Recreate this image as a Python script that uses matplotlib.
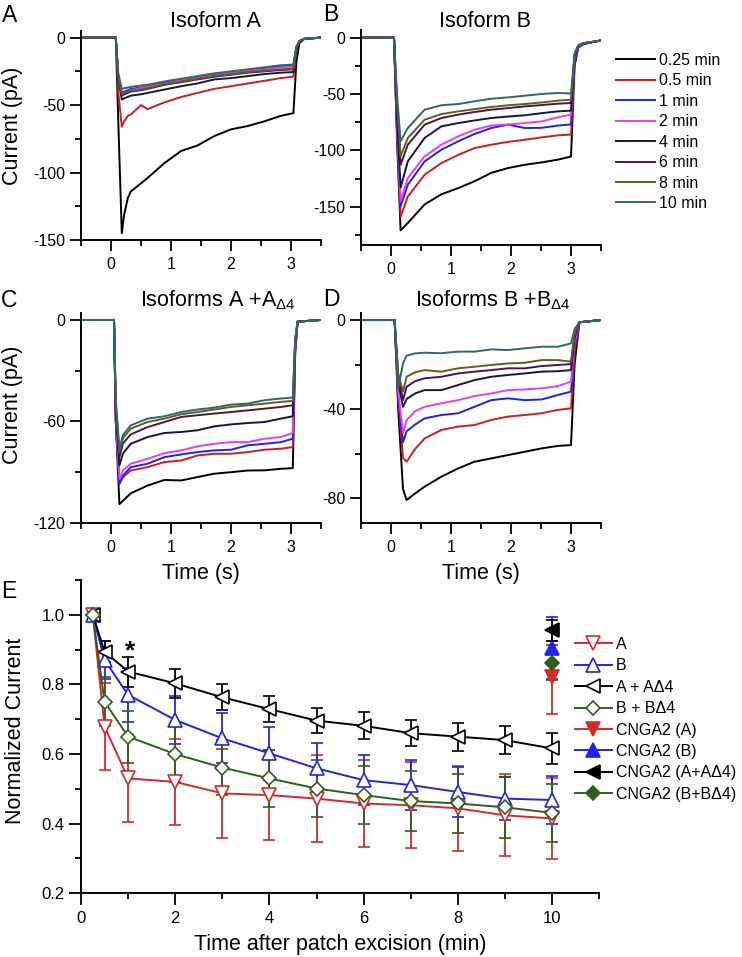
import matplotlib

matplotlib.use("Agg")
import matplotlib.pyplot as plt
from matplotlib.ticker import MultipleLocator, FormatStrFormatter

plt.rcParams["font.family"] = ["Liberation Sans", "DejaVu Sans"]
plt.rcParams["mathtext.fontset"] = "custom"
plt.rcParams["mathtext.rm"] = "Liberation Sans"
plt.rcParams["axes.unicode_minus"] = False

# ---------------------------------------------------------------------------
# Current traces (pA), one list per excision time.
# ---------------------------------------------------------------------------
TRACE_LABELS = ["0.25 min", "0.5 min", "1 min", "2 min", "4 min", "6 min", "8 min", "10 min"]
TRACE_COLORS = ["#000000", "#d01c1c", "#1f1fff", "#e83ee8", "#141452", "#4a1450", "#5f5f1a", "#306868"]

TIME_A = [-0.5, 0.08, 0.12, 0.18, 0.22, 0.28, 0.33, 0.5, 0.61, 0.89, 1.17, 1.44, 1.72,
          2.0, 2.28, 2.56, 2.83, 3.04, 3.09, 3.14, 3.22, 3.5]
TRACES_A = [
    [0, 0, -60, -145, -131, -119, -114, -108, -104, -93, -84, -80, -73, -68, -65.5, -62, -58, -56, -18, -4, -1, 0],
    [0, 0, -40, -66, -62, -58, -57, -50, -53, -48, -44, -41, -38, -36, -34, -32, -30, -29, -9, -3, -1, 0],
    [0, 0, -28, -41, -40, -39, -38, -37, -36, -33, -31, -29, -27, -25.5, -24, -22.5, -21, -20.5, -7, -2.5, -0.8, 0],
    [0, 0, -28, -42, -41, -40, -39, -37.5, -36.5, -34, -31.5, -29.5, -28, -26, -24.5, -23.5, -22, -21.5, -7, -2.5, -0.8, 0],
    [0, 0, -30, -46, -45, -44, -43, -42, -41, -38.5, -36, -34, -31, -30, -28.5, -27, -26, -25.5, -8, -3, -1, 0],
    [0, 0, -29, -43, -42, -41, -40, -39, -38, -35, -33, -31, -29, -27.5, -26, -25, -24, -23.5, -7.5, -2.8, -1, 0],
    [0, 0, -29, -42, -41, -40, -39.5, -38.5, -37.5, -34.5, -32.5, -30.5, -28.5, -27, -25.5, -24.5, -23.5, -23, -7.5, -2.8, -1, 0],
    [0, 0, -26, -38, -37.5, -37, -36.5, -35.5, -35, -32.5, -30.5, -28.5, -26.5, -25, -23.5, -22, -20.5, -20, -6.5, -2.5, -0.8, 0],
]

TIME_B = [-0.5, 0.05, 0.1, 0.16, 0.28, 0.56, 0.84, 1.12, 1.39, 1.67, 1.95, 2.23, 2.51,
          2.78, 3.0, 3.06, 3.12, 3.2, 3.35, 3.5]
TRACES_B = [
    [0, 0, -90, -171, -164.5, -148, -139, -133.5, -127.5, -120, -115.7, -112.8, -110.7, -108.3, -105.5, -25, -9, -6, -4, -2.5],
    [0, 0, -85, -159, -141, -121.6, -111.3, -104, -98, -95, -92.5, -90.6, -88.5, -86.7, -86, -22, -8.5, -5.5, -4, -2.5],
    [0, 0, -80, -149.7, -130.5, -109.8, -99.4, -92, -85.5, -80.2, -77.2, -80.2, -80, -78, -77, -20, -8, -5.5, -4, -2.5],
    [0, 0, -78, -145.3, -124.6, -105.3, -95, -87.6, -81.7, -78, -77, -75.8, -74.3, -70.7, -68.3, -18, -8, -5, -3.8, -2.5],
    [0, 0, -72, -133, -109.8, -89, -78.7, -75.8, -73.5, -71.3, -70, -68.9, -67, -65.4, -64.8, -17, -7.5, -5, -3.8, -2.5],
    [0, 0, -60, -112.8, -95, -77.2, -71.3, -68.3, -66, -63.9, -62.5, -61, -59.8, -58.6, -58, -15, -7, -5, -3.8, -2.5],
    [0, 0, -57, -105.4, -89, -72.8, -67.8, -65.4, -63.5, -61.5, -60, -58.9, -57.5, -55.9, -55, -15, -7, -5, -3.8, -2.5],
    [0, 0, -50, -92, -80.2, -63.9, -60, -58.9, -56.5, -54.2, -53, -51.5, -50, -49.1, -49.5, -14, -7, -5, -3.8, -2.5],
]

TIME_C = [-0.5, 0.05, 0.08, 0.14, 0.2, 0.33, 0.61, 0.89, 1.17, 1.44, 1.72, 2.0, 2.28,
          2.56, 2.83, 3.03, 3.07, 3.11, 3.5]
TRACES_C = [
    [0, 0, -60, -109, -107, -102.6, -98, -94.7, -95, -93, -91, -90.1, -89.1, -89, -88.1, -87.7, -20, -1, 0],
    [0, 0, -60, -97, -93, -89.1, -87.1, -84.1, -83.2, -80.2, -79.2, -79.2, -78.2, -76.8, -76.2, -75.2, -18, -1, 0],
    [0, 0, -60, -97, -92, -87.1, -85.1, -81.2, -79.6, -78.2, -77.2, -76.8, -74.2, -73.3, -72.3, -70.3, -17, -1, 0],
    [0, 0, -58, -94, -89, -85.1, -82.2, -78.8, -77.2, -74.8, -73.3, -72.3, -72.3, -70.3, -69.3, -66.9, -16, -1, 0],
    [0, 0, -55, -86.1, -79, -73.3, -69.3, -66.9, -66.3, -65.3, -63, -61.8, -61, -60.4, -58.4, -57, -14, -1, 0],
    [0, 0, -52, -81.2, -73, -67.7, -63.4, -60.4, -57.4, -56.4, -55.4, -54.5, -53.5, -52.5, -51.5, -50.5, -12, -1, 0],
    [0, 0, -50, -78.2, -70, -64.3, -60.4, -58.4, -55.8, -54.5, -53, -51.5, -50.5, -49.5, -48.5, -47.9, -12, -1, 0],
    [0, 0, -48, -76.2, -68, -62.4, -58.4, -57, -54.5, -53, -51.9, -50.1, -49.5, -47.5, -46.5, -45.9, -11, -1, 0],
]

TIME_D = [-0.5, 0.06, 0.12, 0.2, 0.26, 0.4, 0.56, 0.84, 1.12, 1.39, 1.67, 1.95, 2.23,
          2.51, 2.78, 3.0, 3.06, 3.14, 3.5]
TRACES_D = [
    [0, 0, -40, -76, -80.9, -78, -74.9, -70.4, -66.7, -63.7, -62.2, -60.7, -59.2, -57.7, -56.6, -56.2, -20, -1, 0],
    [0, 0, -35, -62, -63.7, -58, -53.2, -49.4, -47.9, -47.2, -44.9, -43.4, -42.7, -41.9, -40.4, -39.7, -14, -1, 0],
    [0, 0, -35, -55, -50, -47, -44.2, -42.7, -41.9, -39, -36, -35.2, -36, -35.7, -33.7, -32.2, -11, -1, 0],
    [0, 0, -32, -50.9, -45, -41, -39, -37.4, -36, -34.2, -33, -31.5, -31.2, -30.7, -29.7, -27.7, -10, -1, 0],
    [0, 0, -28, -39, -35.5, -33, -31.5, -31.5, -29.2, -27, -25.5, -24.7, -24, -23.2, -23, -22.5, -8, -1, 0],
    [0, 0, -25, -36, -30, -27.5, -26.2, -25.5, -24, -23.2, -22.5, -21.7, -21.7, -20.7, -20.2, -19.8, -7, -1, 0],
    [0, 0, -24, -32.2, -25.5, -23.5, -22.5, -23.2, -21.7, -21, -20.2, -19.5, -19.2, -18, -18, -18.7, -6, -1, 0],
    [0, 0, -30.7, -19.5, -16, -15, -14.7, -14.9, -14.2, -14.2, -13.2, -13.5, -12.7, -12, -12, -10.5, -4, -1, 0],
]

# ---------------------------------------------------------------------------
# Panel E: normalized current vs time after excision (mean +/- error)
# ---------------------------------------------------------------------------
TIME_E = [0.25, 0.5, 1, 2, 3, 4, 5, 6, 7, 8, 9, 10]
A_MEAN = [1.0, 0.679, 0.53, 0.52, 0.487, 0.482, 0.472, 0.458, 0.453, 0.444, 0.424, 0.415]
A_ERR = [0.01, 0.125, 0.125, 0.124, 0.127, 0.13, 0.124, 0.125, 0.124, 0.122, 0.118, 0.117]
B_MEAN = [1.0, 0.87, 0.77, 0.698, 0.645, 0.602, 0.559, 0.525, 0.511, 0.491, 0.472, 0.468]
B_ERR = [0.01, 0.055, 0.077, 0.07, 0.072, 0.077, 0.074, 0.072, 0.072, 0.072, 0.061, 0.07]
AA_MEAN = [1.0, 0.894, 0.837, 0.803, 0.763, 0.729, 0.696, 0.681, 0.66, 0.65, 0.64, 0.616]
AA_ERR = [0.01, 0.03, 0.043, 0.041, 0.037, 0.038, 0.035, 0.039, 0.038, 0.04, 0.04, 0.045]
BB_MEAN = [1.0, 0.75, 0.65, 0.60, 0.561, 0.53, 0.501, 0.482, 0.465, 0.458, 0.447, 0.431]
BB_ERR = [0.01, 0.07, 0.075, 0.08, 0.08, 0.082, 0.081, 0.084, 0.087, 0.084, 0.087, 0.083]

CNGA2_TIME = [10]
CNGA2_A = [0.82]
CNGA2_A_ERR = [0.105]
CNGA2_B = [0.905]
CNGA2_B_ERR = [0.09]
CNGA2_AA = [0.955]
CNGA2_AA_ERR = [0.03]
CNGA2_BB = [0.862]
CNGA2_BB_ERR = [0.05]

E_LABELS = ["A", "B", "A + AΔ4", "B + BΔ4",
            "CNGA2 (A)", "CNGA2 (B)", "CNGA2 (A+AΔ4)", "CNGA2 (B+BΔ4)"]

RED, BLUE, BLACK, GREEN = "#d42a2a", "#2222ee", "#000000", "#2f5f1f"
W, H = 742, 957


def box(left, top, right, bottom):
    return [left / W, 1 - bottom / H, (right - left) / W, (bottom - top) / H]


def style(ax, major, minor, lab_size=11.5):
    for side in ("top", "right"):
        ax.spines[side].set_visible(False)
    for side in ("left", "bottom"):
        ax.spines[side].set_linewidth(1.4)
    ax.tick_params(which="major", direction="out", length=major, width=1.3, labelsize=lab_size)
    ax.tick_params(which="minor", direction="out", length=minor, width=1.3)
    ax.tick_params(axis="x", pad=4.5)
    ax.tick_params(axis="y", pad=3.5)


def trace_panel(ax, times, traces, ylim, ymajor, yminor):
    for vals, col in zip(traces, TRACE_COLORS):
        ax.plot(times, vals, color=col, lw=1.4)
    ax.set_xlim(-0.5, 3.5)
    ax.set_ylim(*ylim)
    ax.xaxis.set_major_locator(MultipleLocator(1))
    ax.xaxis.set_minor_locator(MultipleLocator(0.5))
    ax.yaxis.set_major_locator(MultipleLocator(ymajor))
    ax.yaxis.set_minor_locator(MultipleLocator(yminor))
    style(ax, 8, 4.3)


fig = plt.figure(figsize=(W / 100, H / 100), dpi=100)

ax_a = fig.add_axes(box(81, 31, 321, 240))
trace_panel(ax_a, TIME_A, TRACES_A, (-150, 4.9), 50, 25)
ax_b = fig.add_axes(box(361, 30, 601, 245))
trace_panel(ax_b, TIME_B, TRACES_B, (-184, 6.8), 50, 25)
ax_c = fig.add_axes(box(81, 312.7, 321, 522.7))
trace_panel(ax_c, TIME_C, TRACES_C, (-120, 4.3), 60, 30)
ax_d = fig.add_axes(box(361, 312.7, 601, 522.7))
trace_panel(ax_d, TIME_D, TRACES_D, (-91.1, 3.3), 40, 20)

for ax in (ax_c, ax_d):
    ax.set_xlabel("Time (s)", fontsize=15.5, labelpad=6)

fig.text(12.5 / W, 1 - 126 / H, "Current (pA)", rotation=90, fontsize=15.5, ha="center", va="center")
fig.text(12.5 / W, 1 - 405 / H, "Current (pA)", rotation=90, fontsize=15.5, ha="center", va="center")

# trace legend, to the right of panel B
trace_handles = ax_b.get_lines()
fig.legend(trace_handles, TRACE_LABELS, loc="upper left", bbox_to_anchor=(616 / W, 1 - 53 / H),
           frameon=False, fontsize=11.5, handlelength=2.45, handletextpad=0.25,
           labelspacing=0.34, borderpad=0, borderaxespad=0)

# panel letters and titles
for letter, x, y in [("A", 2, 21.7), ("B", 323, 20.7), ("C", 1, 307), ("D", 323, 306), ("E", 1, 598)]:
    fig.text(x / W, 1 - y / H, letter, fontsize=16.5, ha="left", va="baseline")
fig.text(170 / W, 1 - 27.3 / H, "Isoform A", fontsize=15.5, ha="left", va="baseline")
fig.text(439 / W, 1 - 26.7 / H, "Isoform B", fontsize=15.5, ha="left", va="baseline")
fig.text(140 / W, 1 - 306.7 / H, r"Isoforms A +A$_{\mathregular{Δ4}}$", fontsize=15.5, ha="left", va="baseline")
fig.text(415 / W, 1 - 306 / H, r"Isoforms B +B$_{\mathregular{Δ4}}$", fontsize=15.5, ha="left", va="baseline")

# ---- Panel E ---------------------------------------------------------------
ax_e = fig.add_axes(box(81, 580, 599.3, 893.3))
ax_e.patch.set_visible(False)  # keep "Time (s)" above it visible
eb = dict(capsize=4.5, capthick=1.3, elinewidth=1.3, lw=1.4, mew=1.2)
series = [
    (A_MEAN, A_ERR, RED, "v", 10),
    (B_MEAN, B_ERR, BLUE, "^", 10),
    (AA_MEAN, AA_ERR, BLACK, "<", 10),
    (BB_MEAN, BB_ERR, GREEN, "D", 7),
]
handles = []
for mean, err, col, mk, ms in series:
    c = ax_e.errorbar(TIME_E, mean, yerr=err, color=col, marker=mk, ms=ms,
                      mfc="white", mec=col, **eb)
    handles.append(c[0])
cnga2 = [
    (CNGA2_A, CNGA2_A_ERR, RED, "v", 10),
    (CNGA2_B, CNGA2_B_ERR, BLUE, "^", 10),
    (CNGA2_AA, CNGA2_AA_ERR, BLACK, "<", 10),
    (CNGA2_BB, CNGA2_BB_ERR, GREEN, "D", 7),
]
for mean, err, col, mk, ms in cnga2:
    c = ax_e.errorbar(CNGA2_TIME, mean, yerr=err, color=col, marker=mk, ms=ms,
                      mfc=col, mec=col, **eb)
    handles.append(c[0])

ax_e.text(1.05, 0.876, "*", fontsize=19, fontweight="bold", ha="center", va="baseline")
ax_e.set_xlim(0, 11)
ax_e.set_ylim(0.2, 1.1)
ax_e.xaxis.set_major_locator(MultipleLocator(2))
ax_e.xaxis.set_minor_locator(MultipleLocator(1))
ax_e.yaxis.set_major_locator(MultipleLocator(0.2))
ax_e.yaxis.set_minor_locator(MultipleLocator(0.1))
ax_e.yaxis.set_major_formatter(FormatStrFormatter("%.1f"))
style(ax_e, 8.5, 4.3, lab_size=12)
ax_e.tick_params(axis="x", pad=4)
ax_e.set_xlabel("Time after patch excision (min)", fontsize=15.5, labelpad=6)
fig.text(15.5 / W, 1 - 731 / H, "Normalized Current", rotation=90, fontsize=15.5, ha="center", va="center")

fig.legend(handles, E_LABELS, loc="upper left",
           bbox_to_anchor=(575 / W, 1 - 637 / H), frameon=False, fontsize=11.5,
           handlelength=2.3, handletextpad=0.25, labelspacing=0.4, numpoints=1,
           borderpad=0, borderaxespad=0)

fig.savefig("out.png", dpi=100)
